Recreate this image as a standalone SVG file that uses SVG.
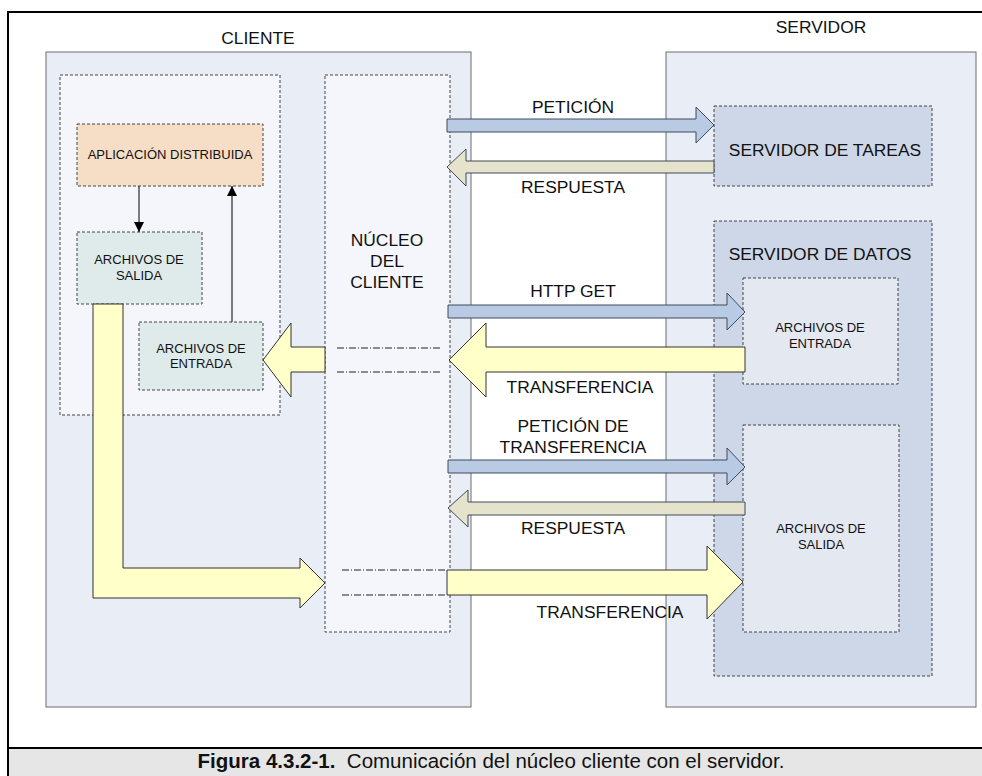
<svg xmlns="http://www.w3.org/2000/svg" width="982" height="776" viewBox="0 0 982 776">
<defs>
<marker id="tri" viewBox="0 0 10 10" refX="10" refY="5" markerWidth="10" markerHeight="10" markerUnits="userSpaceOnUse" orient="auto">
<path d="M0,0 L10,5 L0,10 Z" fill="#000"/>
</marker>
<style>
text{font-family:"Liberation Sans",Arial,sans-serif;fill:#111;text-anchor:middle}
.big{font-size:17.4px}
.sm{font-size:13px}
.region{fill:#e9edf6;stroke:#6d6d6d;stroke-width:1}
.dash{stroke:#444;stroke-width:1;stroke-dasharray:3 2}
.light{fill:#f4f6fb}
.srv{fill:#cdd7e7}
.srvin{fill:#e3e8f1}
.app{fill:#f6ddc6}
.file{fill:#dfeaea}
.blue{fill:#b8cae4;stroke:#3f4a5a;stroke-width:1}
.tan{fill:#e5e3cb;stroke:#3f4a5a;stroke-width:1}
.yel{fill:#ffffc9;stroke:#333;stroke-width:1}
.dd{stroke:#222;stroke-width:1;stroke-dasharray:7 2 1 2;fill:none}
.thin{stroke:#000;stroke-width:1;fill:none}
</style>
</defs>
<rect x="0" y="0" width="982" height="776" fill="#fff"/>
<rect x="8" y="748" width="976" height="30" fill="#e6e6e6"/>
<path d="M8,777 V12 H984" fill="none" stroke="#000" stroke-width="2"/>
<path d="M8,748 H984" fill="none" stroke="#000" stroke-width="2"/>

<g id="cliente">
<rect class="region" x="46" y="52" width="425" height="655"/>
<text class="big" x="258" y="44">CLIENTE</text>
</g>
<g id="servidor">
<rect class="region" x="666" y="52" width="310" height="655"/>
<text class="big" x="821" y="33">SERVIDOR</text>
</g>
<g id="app-region">
<rect class="dash light" x="60" y="75" width="220" height="340"/>
</g>
<g id="aplicacion">
<rect class="dash app" x="77" y="124" width="186" height="62"/>
<text class="sm" x="170" y="159">APLICACIÓN DISTRIBUIDA</text>
</g>
<g id="archivos-salida-cliente">
<rect class="dash file" x="77" y="232" width="125" height="72"/>
<text class="sm" x="139" y="264">ARCHIVOS DE</text>
<text class="sm" x="139" y="280">SALIDA</text>
</g>
<g id="archivos-entrada-cliente">
<rect class="dash file" x="139" y="322" width="124" height="68"/>
<text class="sm" x="201" y="353">ARCHIVOS DE</text>
<text class="sm" x="201" y="368">ENTRADA</text>
</g>
<g id="nucleo">
<rect class="dash light" x="325" y="75" width="125" height="557"/>
<text class="big" x="387" y="246">NÚCLEO</text>
<text class="big" x="387" y="267">DEL</text>
<text class="big" x="387" y="288">CLIENTE</text>
</g>
<g id="servidor-tareas">
<rect class="dash srv" x="714" y="106" width="218" height="80"/>
<text class="big" x="825" y="156">SERVIDOR DE TAREAS</text>
</g>
<g id="servidor-datos">
<rect class="dash srv" x="714" y="221" width="218" height="455"/>
<text class="big" x="820" y="260">SERVIDOR DE DATOS</text>
</g>
<g id="archivos-entrada-servidor">
<rect class="dash srvin" x="743" y="278" width="155" height="106"/>
<text class="sm" x="820" y="332">ARCHIVOS DE</text>
<text class="sm" x="820" y="348">ENTRADA</text>
</g>
<g id="archivos-salida-servidor">
<rect class="dash srvin" x="743" y="425" width="156" height="207"/>
<text class="sm" x="821" y="533">ARCHIVOS DE</text>
<text class="sm" x="821" y="549">SALIDA</text>
</g>

<g id="connectors">
<line class="thin" x1="139" y1="186" x2="139" y2="232" marker-end="url(#tri)"/>
<line class="thin" x1="232" y1="322" x2="232" y2="186" marker-end="url(#tri)"/>
<line class="dd" x1="337" y1="348" x2="442" y2="348"/>
<line class="dd" x1="337" y1="372" x2="442" y2="372"/>
<line class="dd" x1="342" y1="570" x2="447" y2="570"/>
<line class="dd" x1="342" y1="595" x2="447" y2="595"/>
<polygon class="blue" points="447,119 696,119 696,107 714,125 696,143 696,132 447,132"/>
<polygon class="tan" points="714,161 466,161 466,149 447,167 466,186 466,173 714,173"/>
<polygon class="blue" points="448,305 727,305 727,293 745,312 727,330 727,318 448,318"/>
<polygon class="yel" points="745,347 486,347 486,323 449,360 486,397 486,372 745,372"/>
<polygon class="yel" points="325,347 291,347 291,323 263,360 291,397 291,372 325,372"/>
<polygon class="blue" points="448,460 727,460 727,448 745,467 727,485 727,473 448,473"/>
<polygon class="tan" points="745,502 468,502 468,490 448,508 468,527 468,515 745,515"/>
<polygon class="yel" points="447,570 707,570 707,546 743,582 707,619 707,595 447,595"/>
<polygon class="yel" points="93,304 123,304 123,568 300,568 300,558 325,583 300,608 300,598 93,598"/>
<text class="big" x="573" y="113">PETICIÓN</text>
<text class="big" x="573" y="193">RESPUESTA</text>
<text class="big" x="573" y="297">HTTP GET</text>
<text class="big" x="580" y="393">TRANSFERENCIA</text>
<text class="big" x="573" y="432">PETICIÓN DE</text>
<text class="big" x="573" y="453">TRANSFERENCIA</text>
<text class="big" x="573" y="534">RESPUESTA</text>
<text class="big" x="610" y="618">TRANSFERENCIA</text>
</g>

<text x="491" y="768" style="font-size:20.5px"><tspan font-weight="bold">Figura 4.3.2-1.</tspan><tspan xml:space="preserve">  Comunicación del núcleo cliente con el servidor.</tspan></text>
</svg>
